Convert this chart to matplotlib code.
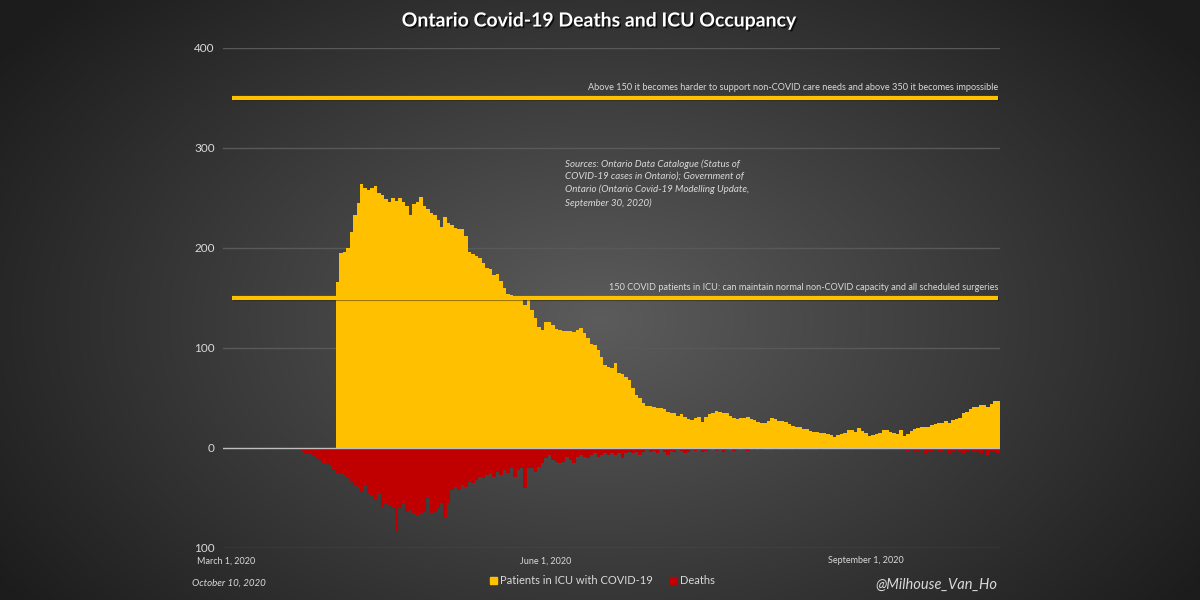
import numpy as np
import pandas as pd
import matplotlib
matplotlib.use('Agg')
import matplotlib.pyplot as plt
import matplotlib.dates as mdates
import matplotlib.patheffects as pe
from matplotlib.patches import Patch

plt.rcParams['font.family'] = ['Lato', 'DejaVu Sans']

# ICU patients with COVID-19, daily from April 2 2020
icu_start = '2020-04-02'
icu = [166, 195, 196, 200, 216, 233, 245, 264, 260, 258, 260, 262, 255, 253, 249, 246,
       250, 247, 250, 246, 242, 233, 244, 246, 251, 242, 239, 235, 233, 228, 221, 231,
       225, 223, 220, 219, 219, 212, 196, 194, 192, 190, 185, 180, 179, 173, 174, 167,
       160, 154, 153, 152, 149, 148, 143, 150, 138, 130, 121, 118, 126, 126, 123, 119,
       118, 117, 117, 117, 116, 118, 120, 115, 110, 104, 103, 98, 91, 83, 81, 80,
       85, 75, 74, 71, 68, 60, 53, 50, 45, 42, 42, 41, 40, 40, 39, 36,
       35, 35, 32, 34, 31, 29, 28, 30, 31, 26, 31, 34, 35, 37, 36, 35,
       35, 32, 30, 29, 30, 30, 31, 29, 28, 26, 25, 25, 27, 30, 29, 27,
       27, 26, 24, 22, 21, 21, 19, 19, 17, 16, 16, 15, 15, 14, 13, 11,
       13, 14, 15, 18, 18, 16, 20, 17, 15, 12, 13, 14, 15, 18, 18, 16,
       15, 14, 18, 12, 14, 17, 19, 20, 21, 21, 21, 23, 24, 25, 25, 27,
       25, 28, 29, 30, 35, 36, 39, 41, 41, 43, 43, 41, 44, 47, 47]

# daily deaths, from March 20 2020
deaths_start = '2020-03-20'
deaths = [1, 2, 2, 4, 5, 5, 7, 10, 12, 15, 15, 17, 22, 25, 25, 27, 30, 34, 37, 39,
          44, 37, 45, 47, 52, 45, 59, 55, 57, 60, 84, 60, 55, 64, 62, 65, 67, 65, 64, 50,
          65, 64, 60, 55, 69, 55, 42, 39, 42, 37, 39, 34, 35, 32, 29, 30, 27, 25, 29, 24,
          27, 22, 25, 20, 29, 22, 20, 40, 20, 20, 24, 19, 15, 10, 7, 12, 14, 15, 14, 9,
          12, 15, 9, 7, 9, 10, 7, 5, 9, 7, 5, 7, 5, 7, 5, 10, 5, 4, 5, 4,
          7, 4, 2,
          4, 3, 5, 2, 4, 7, 3, 4, 2, 3, 5, 4, 2, 3, 2, 4, 3, 2, 1, 3,
          2, 4, 2, 1, 3, 2, 1, 2, 3, 1, 2, 1, 2,
          1, 0, 1, 2, 1, 0, 1, 1, 0, 2, 1, 1, 0, 1, 0, 1, 2, 0, 1, 1,
          0, 1, 0, 1, 1, 0, 2, 1, 0, 1, 1, 0, 1, 0, 1, 1, 2, 0, 1, 1,
          2, 3, 2, 4, 3, 2, 5, 3, 4, 2, 3, 4, 2, 5, 3, 2, 4, 6, 3, 2,
          4, 3, 5, 2, 7, 3, 4, 5]

icu_dates = pd.date_range(icu_start, periods=len(icu), freq='D')
death_dates = pd.date_range(deaths_start, periods=len(deaths), freq='D')

yticks = [400, 300, 200, 100, 0, -100]
ytick_labels = ['400', '300', '200', '100', '0', '100']
xticks = pd.to_datetime(['2020-03-01', '2020-06-01', '2020-09-01'])
xtick_labels = ['March 1, 2020', 'June 1, 2020', 'September 1, 2020']

YELLOW = '#FFC000'
RED = '#C00000'
TXT = '#d9d9d9'


def day_edges(dates):
    # one-day wide bins centred on each date
    n = mdates.date2num(dates)
    return np.append(n - 0.5, n[-1] + 0.5)


fig = plt.figure(figsize=(12, 6), dpi=100)

# radial gradient background
bg = fig.add_axes([0, 0, 1, 1], zorder=-10)
gx, gy = np.meshgrid(np.linspace(0, 1200, 400), np.linspace(0, 600, 200))
r = np.sqrt(((gx - 600) / 640) ** 2 + ((gy - 320) / 420) ** 2)
shade = np.clip(0.36 - 0.22 * r, 0.11, 0.4)
bg.imshow(np.dstack([shade] * 3), extent=[0, 1200, 600, 0], aspect='auto')
bg.axis('off')

ax = fig.add_axes([0.1858, 0.0867, 0.6475, 0.8333])
ax.patch.set_alpha(0)

# bars drawn as filled steps so adjacent days join without seams
ax.stairs(icu, day_edges(icu_dates), baseline=0, fill=True, color=YELLOW, zorder=3)
ax.stairs([-d for d in deaths], day_edges(death_dates), baseline=0, fill=True,
          color=RED, zorder=3)
ax.xaxis_date()

x0 = mdates.date2num(pd.Timestamp('2020-03-01'))
ax.set_xlim(x0 - 0.9, x0 + 222.5)
ax.set_ylim(-100, 400)

for v in yticks:
    if v == 0:
        continue
    ax.axhline(v, color='#595959', lw=1, zorder=1)
ax.axhline(0, color='#bfbfbf', lw=1, zorder=4)

line_start = x0 + 1.7
line_end = x0 + 222
ax.hlines([350, 150], line_start, line_end, colors=YELLOW, lw=3, zorder=5,
          path_effects=[pe.SimpleLineShadow(offset=(0.8, -0.8), alpha=0.4), pe.Normal()])

ax.text(line_end, 356, 'Above 150 it becomes harder to support non-COVID care needs and above 350 it becomes impossible',
        ha='right', va='bottom', fontsize=6.6, color=TXT)
ax.text(line_end, 156, '150 COVID patients in ICU: can maintain normal non-COVID capacity and all scheduled surgeries',
        ha='right', va='bottom', fontsize=6.6, color=TXT)

ax.text(x0 + 97.5, 289,
        'Sources: Ontario Data Catalogue (Status of\nCOVID-19 cases in Ontario); Government of\n'
        'Ontario (Ontario Covid-19 Modelling Update,\nSeptember 30, 2020)',
        ha='left', va='top', fontsize=7.0, style='italic', color=TXT, linespacing=1.5)

ax.set_yticks(yticks)
ax.set_yticklabels(ytick_labels)
ax.set_xticks(mdates.date2num(xticks))
ax.set_xticklabels(xtick_labels)
ax.tick_params(axis='y', length=0, labelsize=8.5, labelcolor=TXT, pad=6)
ax.tick_params(axis='x', length=0, labelsize=6.5, labelcolor=TXT, pad=6)
for s in ax.spines.values():
    s.set_visible(False)

fig.text(0.5, 0.965, 'Ontario Covid-19 Deaths and ICU Occupancy', ha='center', va='center',
         fontsize=14, fontweight='bold', color='white',
         path_effects=[pe.SimplePatchShadow(offset=(1.2, -1.2), shadow_rgbFace='black', alpha=0.7), pe.Normal()])

fig.text(0.191, 0.028, 'October 10, 2020', ha='center', va='center', fontsize=7,
         style='italic', color=TXT)
fig.text(0.78, 0.026, '@Milhouse_Van_Ho', ha='center', va='center', fontsize=10.5,
         style='italic', color=TXT)

handles = [Patch(color=YELLOW, label='Patients in ICU with COVID-19'),
           Patch(color=RED, label='Deaths')]
fig.legend(handles=handles, loc='center', bbox_to_anchor=(0.502, 0.032), ncol=2, frameon=False,
           fontsize=8, labelcolor=TXT, handlelength=0.6, handleheight=0.6,
           handletextpad=0.3, columnspacing=1.5)

fig.savefig('out.png', dpi=100)
plt.close()
